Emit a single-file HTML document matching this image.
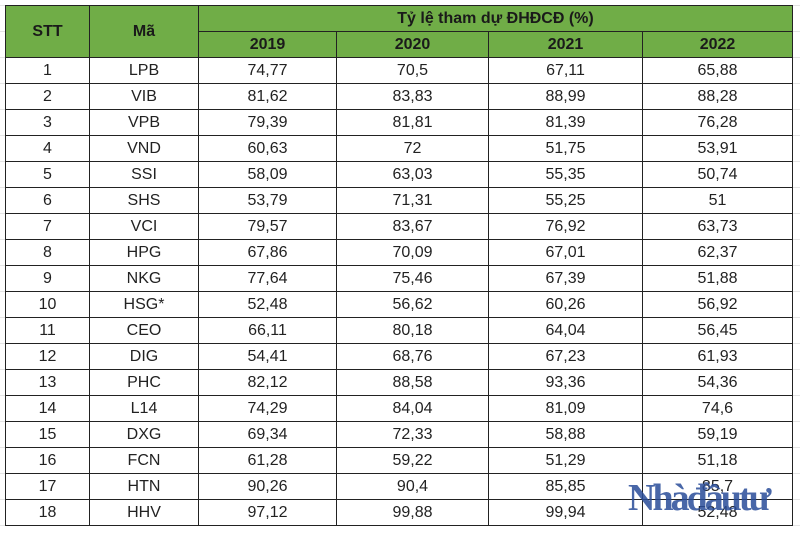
<!DOCTYPE html>
<html><head><meta charset="utf-8"><style>
body{margin:0;width:800px;height:534px;background:#fff;overflow:hidden;position:relative;font-family:"Liberation Sans",sans-serif}
.grid{position:absolute;left:0;top:0;width:800px;height:534px;
background-image:linear-gradient(#e4e4e4 1px,transparent 1px);background-size:100% 26px;background-position:0 5px}
table{position:absolute;left:5px;top:5px;border-collapse:collapse;table-layout:fixed;background:#fff}
td,th{border:1.5px solid #222;text-align:center;padding:0;font-size:16px;color:#222;height:25px;line-height:25px}
th{background:#70ad47;font-weight:bold;font-size:16px;color:#1a1a1a}
.wm{position:absolute;left:628px;top:476px;font-family:"Liberation Serif",serif;font-weight:bold;font-size:38px;color:#2a4d99;opacity:.85;letter-spacing:-3px}
</style></head><body>
<div class="grid"></div>
<table>
<colgroup><col style="width:84px"><col style="width:109px"><col style="width:138px"><col style="width:152px"><col style="width:154px"><col style="width:150px"></colgroup>
<tr><th rowspan="2">STT</th><th rowspan="2">Mã</th><th colspan="4">Tỷ lệ tham dự ĐHĐCĐ (%)</th></tr>
<tr><th>2019</th><th>2020</th><th>2021</th><th>2022</th></tr>
<tr><td>1</td><td>LPB</td><td>74,77</td><td>70,5</td><td>67,11</td><td>65,88</td></tr>
<tr><td>2</td><td>VIB</td><td>81,62</td><td>83,83</td><td>88,99</td><td>88,28</td></tr>
<tr><td>3</td><td>VPB</td><td>79,39</td><td>81,81</td><td>81,39</td><td>76,28</td></tr>
<tr><td>4</td><td>VND</td><td>60,63</td><td>72</td><td>51,75</td><td>53,91</td></tr>
<tr><td>5</td><td>SSI</td><td>58,09</td><td>63,03</td><td>55,35</td><td>50,74</td></tr>
<tr><td>6</td><td>SHS</td><td>53,79</td><td>71,31</td><td>55,25</td><td>51</td></tr>
<tr><td>7</td><td>VCI</td><td>79,57</td><td>83,67</td><td>76,92</td><td>63,73</td></tr>
<tr><td>8</td><td>HPG</td><td>67,86</td><td>70,09</td><td>67,01</td><td>62,37</td></tr>
<tr><td>9</td><td>NKG</td><td>77,64</td><td>75,46</td><td>67,39</td><td>51,88</td></tr>
<tr><td>10</td><td>HSG*</td><td>52,48</td><td>56,62</td><td>60,26</td><td>56,92</td></tr>
<tr><td>11</td><td>CEO</td><td>66,11</td><td>80,18</td><td>64,04</td><td>56,45</td></tr>
<tr><td>12</td><td>DIG</td><td>54,41</td><td>68,76</td><td>67,23</td><td>61,93</td></tr>
<tr><td>13</td><td>PHC</td><td>82,12</td><td>88,58</td><td>93,36</td><td>54,36</td></tr>
<tr><td>14</td><td>L14</td><td>74,29</td><td>84,04</td><td>81,09</td><td>74,6</td></tr>
<tr><td>15</td><td>DXG</td><td>69,34</td><td>72,33</td><td>58,88</td><td>59,19</td></tr>
<tr><td>16</td><td>FCN</td><td>61,28</td><td>59,22</td><td>51,29</td><td>51,18</td></tr>
<tr><td>17</td><td>HTN</td><td>90,26</td><td>90,4</td><td>85,85</td><td>85,7</td></tr>
<tr><td>18</td><td>HHV</td><td>97,12</td><td>99,88</td><td>99,94</td><td>52,48</td></tr>
</table>
<div class="wm">Nhàđầutư</div>
</body></html>
